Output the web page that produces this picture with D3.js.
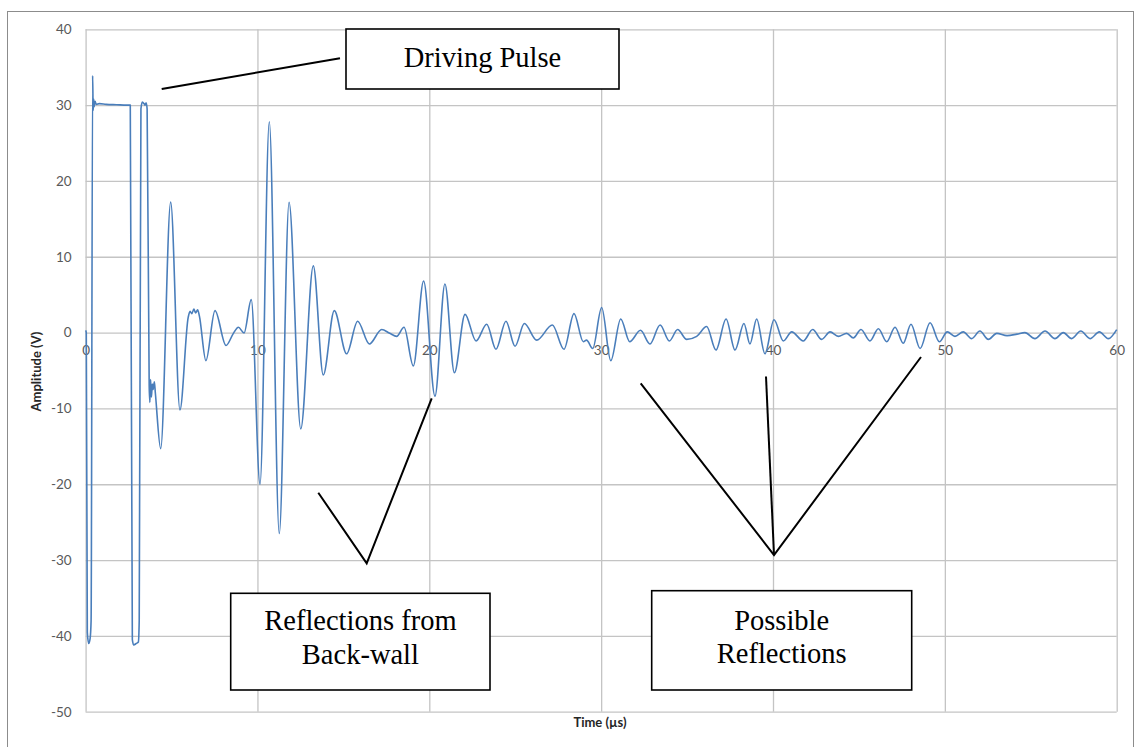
<!DOCTYPE html>
<html>
<head>
<meta charset="utf-8">
<script src="https://cdn.jsdelivr.net/npm/d3@7"></script>
<style>
  html, body { margin: 0; padding: 0; background: #fff; }
  svg { display: block; }
  .callout-text { font-family: "Liberation Serif", "DejaVu Serif", serif; font-size: 28.5px; }
  .tick-label { font-family: Lato, "Open Sans", sans-serif; font-size: 13.5px; }
  .axis-title { font-family: Lato, "Open Sans", sans-serif; font-size: 13px; font-weight: bold; }
</style>
</head>
<body>
<svg id="chart" width="1136" height="747"></svg>
<script>
// Ultrasonic A-scan: transducer voltage against time
const timeUs = [0.00, 0.04, 0.10, 0.18, 0.26, 0.32, 0.41, 0.44, 0.47, 0.50,
  0.55, 0.62, 0.80, 1.20, 1.80, 2.40, 2.60, 2.72, 2.80, 2.95,
  3.07, 3.12, 3.22, 3.30, 3.40, 3.46, 3.52, 3.58, 3.70, 3.74,
  3.78, 3.83, 3.88, 3.93, 4.00, 4.06, 4.37, 4.95, 5.49, 5.97,
  6.08, 6.18, 6.30, 6.40, 6.52, 6.62, 7.00, 7.53, 8.17, 8.60,
  8.89, 9.22, 9.64, 10.15, 10.69, 11.27, 11.84, 12.52, 13.25, 13.83,
  14.47, 15.19, 15.83, 16.51, 17.23, 17.70, 18.10, 18.53, 19.07, 19.67,
  20.33, 20.91, 21.46, 22.08, 22.72, 23.34, 23.88, 24.46, 24.99, 25.53,
  26.25, 27.16, 27.84, 28.42, 28.96, 29.15, 29.51, 30.03, 30.56, 31.14,
  31.66, 32.29, 32.84, 33.43, 33.97, 34.45, 34.98, 35.56, 36.14, 36.68,
  37.27, 37.79, 38.31, 38.66, 39.05, 39.53, 40.06, 40.60, 41.09, 41.76,
  42.31, 42.83, 43.32, 43.80, 44.29, 44.67, 45.12, 45.64, 46.13, 46.62,
  47.10, 47.58, 48.03, 48.56, 49.14, 49.68, 50.14, 50.59, 51.07, 51.56,
  52.04, 52.53, 53.02, 53.62, 54.20, 54.66, 55.24, 55.83, 56.41, 56.89,
  57.38, 57.91, 58.45, 58.99, 59.51, 60.00];

const amplitudeV = [0.3, 0.0, -39.5, -41.0, -40.4, -38.0, 33.9, 29.3, 30.8, 29.8,
  30.5, 30.1, 30.2, 30.1, 30.05, 30.0, 30.0, -40.5, -41.2, -41.0,
  -40.8, -38.0, 29.5, 30.4, 30.2, 30.0, 30.3, 29.5, -7.0, -9.2,
  -6.2, -8.5, -6.8, -7.5, -6.5, -8.0, -15.3, 17.2, -10.2, 2.0,
  2.8, 2.5, 3.1, 2.6, 3.0, 2.2, -3.7, 2.9, -1.7, -0.1,
  0.7, -0.05, 4.35, -20.0, 27.8, -26.5, 17.2, -12.7, 8.8, -5.6,
  2.9, -2.8, 1.5, -1.5, 0.4, -0.1, -0.5, 0.7, -4.4, 6.8,
  -8.4, 6.4, -5.3, 2.4, -1.1, 1.1, -2.2, 1.5, -1.8, 1.2,
  -1.0, 1.0, -2.2, 2.5, -1.2, -1.0, -2.1, 3.3, -3.7, 1.8,
  -1.2, 0.3, -1.5, 1.0, -1.1, 0.4, -0.9, -0.5, 0.8, -2.3,
  1.8, -2.3, 1.2, -1.5, 1.8, -2.8, 1.7, -1.1, 0.1, -1.1,
  0.4, -0.9, 0.1, -0.5, -0.1, -0.7, 0.4, -1.1, 0.5, -1.2,
  0.7, -1.4, 1.1, -2.1, 1.3, -1.2, 0.1, -0.5, 0.1, -0.8,
  0.2, -0.9, -0.1, -0.4, -0.2, 0.0, -0.8, 0.2, -0.8, 0.0,
  -0.8, 0.2, -0.8, 0.1, -0.8, 0.4];

const xTicks = [0, 10, 20, 30, 40, 50, 60];
const yTicks = [40, 30, 20, 10, 0, -10, -20, -30, -40, -50];

const xTitle = "Time (\u00b5s)";
const yTitle = "Amplitude (V)";

const calloutTexts = [
  ["Driving Pulse"],
  ["Reflections from", "Back-wall"],
  ["Possible", "Reflections"]
];

// ---- layout ----
const plot = { left: 85.6, right: 1116.7, top: 29.3, bottom: 711.7 };
const gridColor = "#c4c4c4";
const labelColor = "#595959";
const seriesColor = "#4a7ebb";
const plainNumber = d => String(d); // hyphen-minus, as in the workbook

const svg = d3.select("#chart");
svg.append("rect").attr("width", 1136).attr("height", 747).attr("fill", "#fff");

// outer chart frame
svg.append("rect")
  .attr("x", 7.5).attr("y", 11.5)
  .attr("width", 1126).attr("height", 760)
  .attr("fill", "none").attr("stroke", "#8c8c8c").attr("stroke-width", 1);

const x = d3.scaleLinear().domain([0, 60]).range([plot.left, plot.right]);
const y = d3.scaleLinear().domain([-50, 40]).range([plot.bottom, plot.top]);

// horizontal gridlines + value labels
const yAxis = svg.append("g")
  .attr("transform", `translate(${plot.left},0)`)
  .call(d3.axisLeft(y).tickValues(yTicks)
    .tickSize(-(plot.right - plot.left)).tickPadding(14)
    .tickFormat(plainNumber));
yAxis.select(".domain").remove();
yAxis.selectAll(".tick line").attr("stroke", gridColor).attr("stroke-width", 1.3);
yAxis.selectAll(".tick text")
  .attr("class", "tick-label")
  .attr("fill", labelColor)
  .attr("font-family", null).attr("font-size", null);
yAxis.attr("font-family", null).attr("font-size", null);

// vertical gridlines
const xGrid = svg.append("g")
  .attr("transform", `translate(0,${plot.bottom})`)
  .call(d3.axisBottom(x).tickValues(xTicks)
    .tickSize(-(plot.bottom - plot.top)).tickFormat(""));
xGrid.select(".domain").remove();
xGrid.selectAll(".tick line").attr("stroke", gridColor).attr("stroke-width", 1.3);

// time labels sit just under the zero line
const xAxis = svg.append("g")
  .attr("transform", `translate(0,${y(0)})`)
  .call(d3.axisBottom(x).tickValues(xTicks).tickSize(0).tickPadding(13)
    .tickFormat(plainNumber));
xAxis.select(".domain").remove();
xAxis.attr("font-family", null).attr("font-size", null);
xAxis.selectAll(".tick text")
  .attr("class", "tick-label")
  .attr("fill", labelColor);

// axis titles
svg.append("text")
  .attr("class", "axis-title")
  .attr("transform", `translate(38,${(plot.top + plot.bottom) / 2 + 1}) rotate(-90)`)
  .attr("text-anchor", "middle").attr("dominant-baseline", "middle")
  .attr("fill", "#262626")
  .text(yTitle);

svg.append("text")
  .attr("class", "axis-title")
  .attr("x", 600).attr("y", 727)
  .attr("text-anchor", "middle")
  .attr("fill", "#262626")
  .text(xTitle);

// waveform
const points = timeUs.map((t, i) => [t, amplitudeV[i]]);
const line = d3.line()
  .x(d => x(d[0]))
  .y(d => y(d[1]))
  .curve(d3.curveMonotoneX);

svg.append("path")
  .datum(points)
  .attr("fill", "none")
  .attr("stroke", seriesColor)
  .attr("stroke-width", 1.6)
  .attr("stroke-linejoin", "round")
  .attr("d", line);

// ---- callouts ----
const calloutBoxes = [
  { x: 346, y: 29, w: 273, h: 60, cx: 482.5, baselines: [66.7] },
  { x: 230.7, y: 593.3, w: 259.3, h: 96.7, cx: 360.4, baselines: [630, 664.3] },
  { x: 651.7, y: 590.7, w: 260, h: 99.3, cx: 781.7, baselines: [630, 662.7] }
];

const leaderLines = [
  [[161.7, 89], [340, 58.3]],
  [[318.3, 492.7], [366.7, 563.3], [431.7, 398.3]],
  [[640.7, 383.3], [774, 555], [921, 357]],
  [[766, 376.5], [774, 555]]
];

const leader = d3.line();
svg.append("g").selectAll("path")
  .data(leaderLines)
  .join("path")
  .attr("d", leader)
  .attr("fill", "none")
  .attr("stroke", "#000")
  .attr("stroke-width", 2)
  .attr("stroke-linejoin", "miter");

const boxes = svg.append("g").selectAll("g")
  .data(calloutBoxes)
  .join("g");

boxes.append("rect")
  .attr("x", d => d.x).attr("y", d => d.y)
  .attr("width", d => d.w).attr("height", d => d.h)
  .attr("fill", "#fff").attr("stroke", "#000").attr("stroke-width", 1.6);

boxes.each(function (d, i) {
  const g = d3.select(this);
  calloutTexts[i].forEach((txt, k) => {
    g.append("text")
      .attr("class", "callout-text")
      .attr("x", d.cx).attr("y", d.baselines[k])
      .attr("text-anchor", "middle")
      .attr("fill", "#000")
      .text(txt);
  });
});
</script>
</body>
</html>
